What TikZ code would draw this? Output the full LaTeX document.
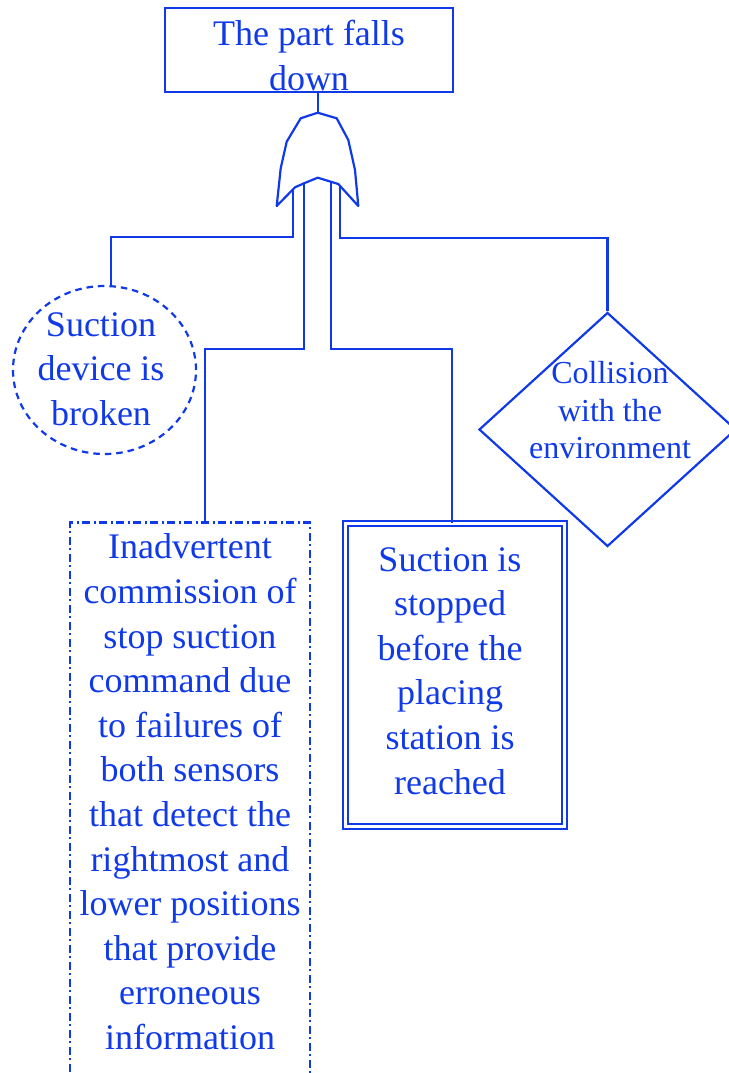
\documentclass[tikz,border=0pt]{standalone}
\usepackage{fontspec}
\setmainfont{Liberation Serif}
\usetikzlibrary{shapes.geometric}
\definecolor{ftblue}{RGB}{16,58,232}
\begin{document}
\begin{tikzpicture}[x=1pt,y=-1pt,
  edge/.style={draw=ftblue,line width=2.2pt},
  outline/.style={draw=ftblue,line width=2.2pt,inner sep=0pt},
  bigtext/.style={text=ftblue,font=\fontsize{36}{44.6}\selectfont,align=center,inner sep=0pt,anchor=north},
  smalltext/.style={text=ftblue,font=\fontsize{32}{37.5}\selectfont,align=center,inner sep=0pt,anchor=north}]
\useasboundingbox (0,0) rectangle (728,1073);

% top event
\node[outline,rectangle,minimum width=288pt,minimum height=84pt] (top) at (309,50) {};
\node[bigtext] (toptext) at (309,20.4) {The part falls\\down};

% OR gate
\draw[edge,line join=round] (317.7,112.7) -- (300.7,118.3) -- (286.7,141.7) -- (280.7,168.3) -- (276.7,206)
  -- (295,187.3) -- (304,183.3) -- (317.7,177.7) -- (338.3,184) -- (358.3,206)
  -- (355,170) -- (348.3,140) -- (336.7,118.3) -- cycle;
\coordinate (gout) at (317.7,112.7);
\coordinate (in1) at (293.3,189);
\coordinate (in2) at (304.3,183.2);
\coordinate (in3) at (330.7,181.7);
\coordinate (in4) at (340,185.9);

% basic event: circle
\node[outline,ellipse,dash pattern=on 6.5pt off 5pt,minimum width=183pt,minimum height=168pt] (circ) at (104.5,370) {};
\node[bigtext] (circtext) at (101,312) {Suction\\device is\\broken};

% dash-dotted event box
\node[outline,rectangle,dash pattern=on 8pt off 3.5pt on 2pt off 3.5pt,minimum width=240pt,minimum height=577pt] (cmd) at (190,811) {};
\node[bigtext] (cmdtext) at (190,533.7) {Inadvertent\\commission of\\stop suction\\command due\\to failures of\\both sensors\\that detect the\\rightmost and\\lower positions\\that provide\\erroneous\\information};

% double-framed event box
\node[draw=ftblue,line width=2.2pt,double=white,double distance=2.8pt,rectangle,inner sep=0pt,minimum width=219pt,minimum height=302.7pt] (stop) at (455,675) {};
\node[bigtext] (stoptext) at (450,547) {Suction is\\stopped\\before the\\placing\\station is\\reached};

% undeveloped event: diamond
\node[outline,diamond,minimum width=257pt,minimum height=234pt] (diam) at (607.5,429.5) {};
\node[smalltext] (diamtext) at (610,361.4) {Collision\\with the\\environment};

% connectors
\coordinate (j1) at (111,237);
\coordinate (j2) at (205,349);
\coordinate (j3) at (452,349);
\coordinate (j4) at (607.5,238);
\draw[edge] (gout |- top.south) -- (gout);
\draw[edge] (in1) |- (j1) -- (j1 |- circ.north);
\draw[edge] (in2) |- (j2) -- (j2 |- cmd.north);
\draw[edge] (in3) |- (j3) -- (j3 |- stop.north);
\draw[edge] (in4) |- (j4) -- (diam.north);
\end{tikzpicture}
\end{document}
